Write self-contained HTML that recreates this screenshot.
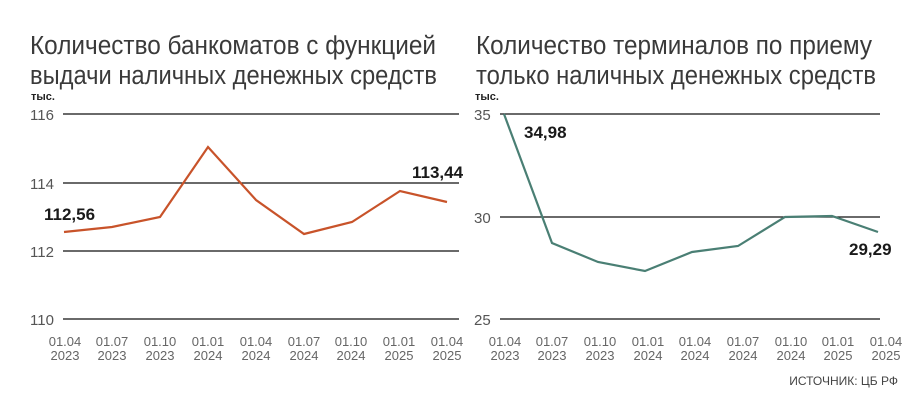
<!DOCTYPE html>
<html><head><meta charset="utf-8"><style>
body{margin:0;background:#fff;width:924px;height:415px;overflow:hidden}
svg text{font-family:"Liberation Sans","DejaVu Sans",sans-serif}
</style></head><body>
<svg width="924" height="415" xmlns="http://www.w3.org/2000/svg">
<g fill="#3a3a3a" font-size="25.5">
<text x="30" y="54" textLength="406" lengthAdjust="spacingAndGlyphs">Количество банкоматов с функцией</text>
<text x="30" y="84" textLength="407" lengthAdjust="spacingAndGlyphs">выдачи наличных денежных средств</text>
<text x="476" y="54" textLength="396" lengthAdjust="spacingAndGlyphs">Количество терминалов по приему</text>
<text x="476" y="84" textLength="400" lengthAdjust="spacingAndGlyphs">только наличных денежных средств</text>
</g>
<g font-size="11" font-weight="bold" fill="#222">
<text x="31" y="100">тыс.</text><text x="475" y="100">тыс.</text>
</g>
<g stroke="#111" stroke-width="1.2">
<line x1="63" y1="114" x2="459" y2="114"/><line x1="63" y1="183" x2="459" y2="183"/>
<line x1="63" y1="251" x2="459" y2="251"/><line x1="63" y1="319" x2="459" y2="319"/>
<line x1="500" y1="114" x2="880" y2="114"/><line x1="500" y1="217" x2="880" y2="217"/>
<line x1="500" y1="319" x2="880" y2="319"/>
</g>
<g font-size="15" fill="#555" font-weight="300">
<text x="30" y="120">116</text><text x="30" y="189">114</text><text x="30" y="257">112</text><text x="30" y="325">110</text>
<text x="474" y="120">35</text><text x="474" y="223">30</text><text x="474" y="325">25</text>
</g>
<polyline fill="none" stroke="#c8532a" stroke-width="2.2" points="64,232 112,227 160,217 208,147 256,200 304,234 352,222 400,191 447,202"/>
<polyline fill="none" stroke="#4a7f74" stroke-width="2.2" points="504,114 552,243 598,262 645,271 692,252 738,246 785,217 832,216 878,232"/>
<g font-size="17" font-weight="bold" fill="#1a1a1a">
<text x="44" y="220">112,56</text><text x="412" y="178">113,44</text>
<text x="524" y="138">34,98</text><text x="849" y="255">29,29</text>
</g>
<g font-size="13" fill="#666" text-anchor="middle">
<text x="65" y="346">01.04</text><text x="65" y="360">2023</text>
<text x="112" y="346">01.07</text><text x="112" y="360">2023</text>
<text x="160" y="346">01.10</text><text x="160" y="360">2023</text>
<text x="208" y="346">01.01</text><text x="208" y="360">2024</text>
<text x="256" y="346">01.04</text><text x="256" y="360">2024</text>
<text x="304" y="346">01.07</text><text x="304" y="360">2024</text>
<text x="351" y="346">01.10</text><text x="351" y="360">2024</text>
<text x="399" y="346">01.01</text><text x="399" y="360">2025</text>
<text x="447" y="346">01.04</text><text x="447" y="360">2025</text>
<text x="505" y="346">01.04</text><text x="505" y="360">2023</text>
<text x="552" y="346">01.07</text><text x="552" y="360">2023</text>
<text x="600" y="346">01.10</text><text x="600" y="360">2023</text>
<text x="648" y="346">01.01</text><text x="648" y="360">2024</text>
<text x="695" y="346">01.04</text><text x="695" y="360">2024</text>
<text x="743" y="346">01.07</text><text x="743" y="360">2024</text>
<text x="791" y="346">01.10</text><text x="791" y="360">2024</text>
<text x="838" y="346">01.01</text><text x="838" y="360">2025</text>
<text x="886" y="346">01.04</text><text x="886" y="360">2025</text>
</g>
<text x="898" y="385" font-size="12" fill="#444" text-anchor="end">ИСТОЧНИК: ЦБ РФ</text>
</svg>
</body></html>
